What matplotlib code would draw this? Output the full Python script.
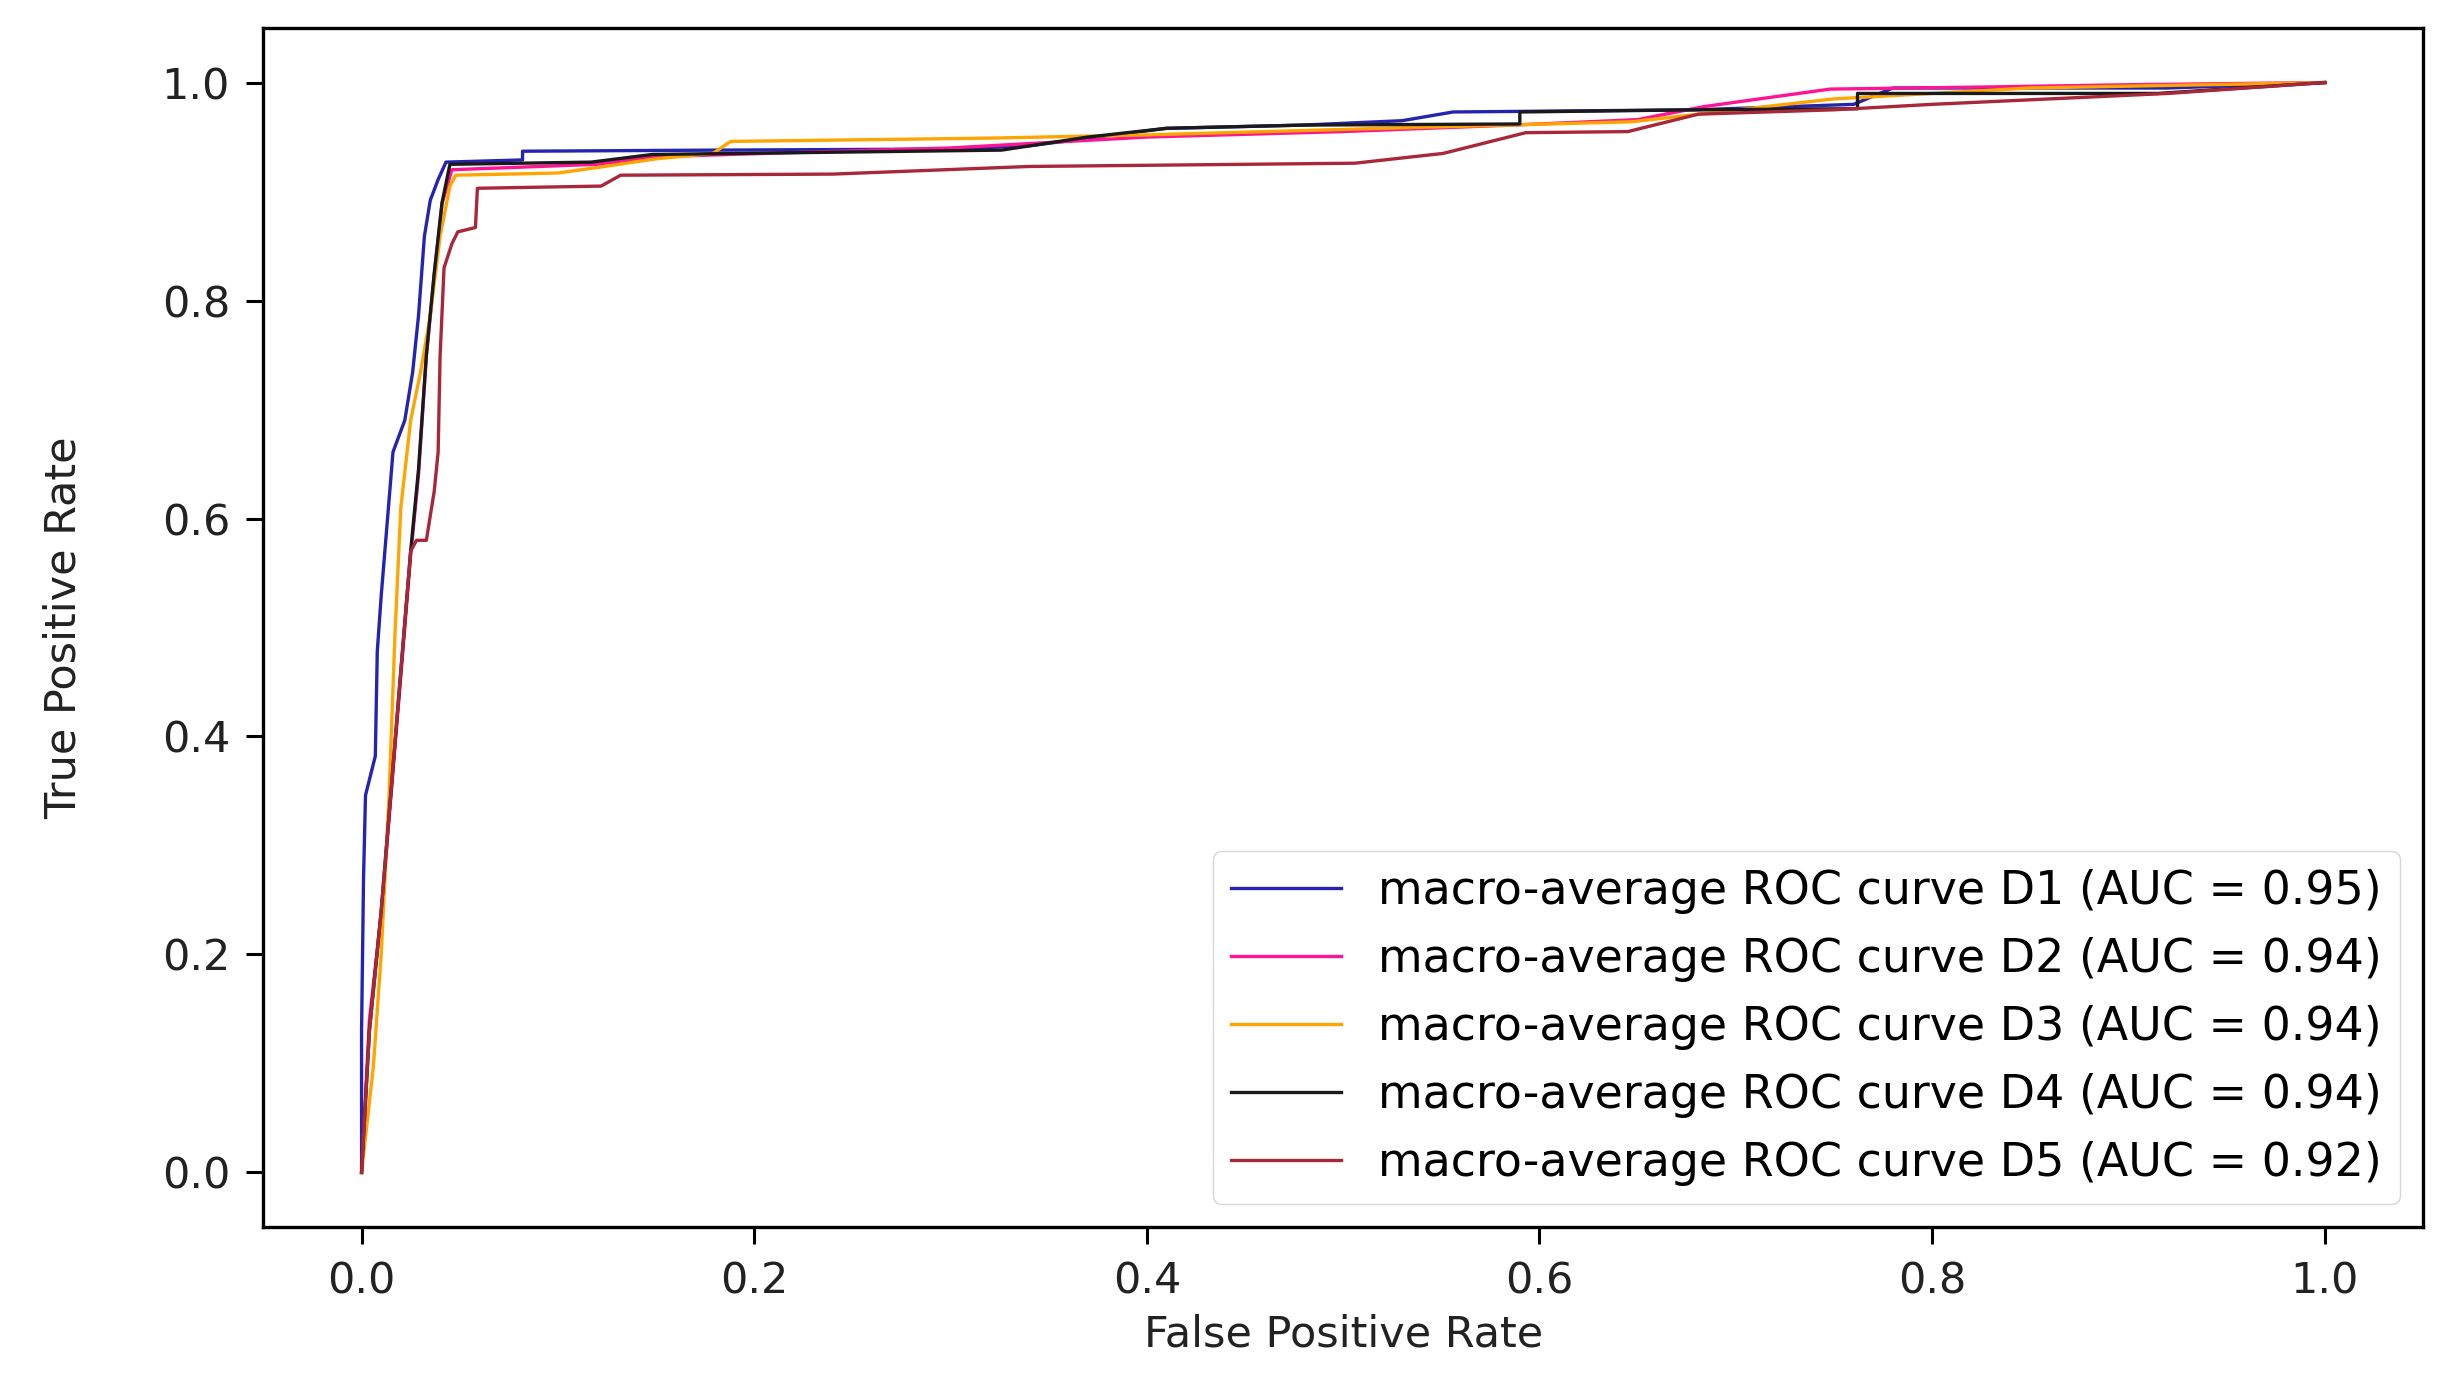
import matplotlib
matplotlib.use("Agg")
import matplotlib.pyplot as plt

# macro-average ROC curves
D1_FPR = [0, 0, 0.001, 0.002, 0.007, 0.008, 0.010, 0.016, 0.022, 0.026, 0.029,
          0.032, 0.035, 0.039, 0.043, 0.082, 0.082, 0.18, 0.30, 0.34, 0.41,
          0.48, 0.53, 0.556, 0.68, 0.76, 0.78, 0.92, 1.0]
D1_TPR = [0, 0.13, 0.27, 0.346, 0.382, 0.478, 0.529, 0.661, 0.69, 0.734, 0.786,
          0.859, 0.892, 0.911, 0.927, 0.929, 0.937, 0.938, 0.939, 0.942, 0.958,
          0.961, 0.965, 0.973, 0.975, 0.98, 0.995, 0.995, 1.0]

D2_FPR = [0, 0.004, 0.010, 0.015, 0.020, 0.025, 0.029, 0.033, 0.037, 0.041,
          0.046, 0.12, 0.15, 0.30, 0.40, 0.50, 0.60, 0.65, 0.684, 0.748, 0.83,
          0.90, 1.0]
D2_TPR = [0, 0.14, 0.236, 0.346, 0.456, 0.566, 0.64, 0.749, 0.823, 0.889,
          0.92, 0.925, 0.932, 0.94, 0.95, 0.955, 0.962, 0.966, 0.978, 0.994,
          0.996, 0.998, 1.0]

D3_FPR = [0, 0.006, 0.010, 0.014, 0.017, 0.020, 0.025, 0.030, 0.035, 0.040,
          0.045, 0.048, 0.10, 0.12, 0.15, 0.179, 0.188, 0.32, 0.40, 0.52,
          0.647, 0.681, 0.75, 0.85, 1.0]
D3_TPR = [0, 0.097, 0.2, 0.346, 0.493, 0.61, 0.69, 0.734, 0.786, 0.859,
          0.905, 0.915, 0.917, 0.922, 0.93, 0.935, 0.946, 0.949, 0.952, 0.958,
          0.964, 0.971, 0.985, 0.995, 1.0]

D4_FPR = [0, 0.004, 0.010, 0.015, 0.020, 0.025, 0.029, 0.033, 0.037, 0.041,
          0.045, 0.117, 0.148, 0.326, 0.37, 0.41, 0.481, 0.59, 0.59, 0.68,
          0.762, 0.762, 0.915, 1.0]
D4_TPR = [0, 0.13, 0.24, 0.35, 0.46, 0.57, 0.645, 0.75, 0.825, 0.89,
          0.925, 0.927, 0.934, 0.938, 0.95, 0.958, 0.961, 0.962, 0.973, 0.975,
          0.976, 0.99, 0.99, 1.0]

D5_FPR = [0, 0.004, 0.010, 0.015, 0.020, 0.025, 0.028, 0.033, 0.037, 0.039,
          0.040, 0.042, 0.046, 0.049, 0.058, 0.059, 0.122, 0.132, 0.24, 0.34,
          0.506, 0.551, 0.593, 0.645, 0.681, 0.75, 0.80, 0.92, 1.0]
D5_TPR = [0, 0.13, 0.24, 0.35, 0.46, 0.57, 0.58, 0.58, 0.625, 0.661,
          0.749, 0.83, 0.852, 0.863, 0.867, 0.903, 0.905, 0.915, 0.916, 0.923,
          0.926, 0.935, 0.954, 0.955, 0.971, 0.975, 0.98, 0.99, 1.0]

NAMES = ["D1", "D2", "D3", "D4", "D5"]
AUCS = [0.95, 0.94, 0.94, 0.94, 0.92]
COLORS = ["#2424b0", "deeppink", "orange", "#1a1a1a", "#a8283a"]
CURVES = [(D1_FPR, D1_TPR), (D2_FPR, D2_TPR), (D3_FPR, D3_TPR),
          (D4_FPR, D4_TPR), (D5_FPR, D5_TPR)]

fig = plt.figure(figsize=(24.39, 13.82), dpi=100)
ax = fig.add_axes([0.108, 0.1122, 0.8854, 0.8675])

for (fpr, tpr), name, auc, color in zip(CURVES, NAMES, AUCS, COLORS):
    ax.plot(fpr, tpr, color=color, lw=2.4,
            label=f"macro-average ROC curve {name} (AUC = {auc:.2f})")

ax.set_xlabel("False Positive Rate", fontsize=31, color="#222")
ax.set_ylabel("True Positive Rate", fontsize=31, color="#222")
ax.xaxis.set_label_coords(0.5, -0.072)
ax.yaxis.set_label_coords(-0.083, 0.5)
ax.tick_params(axis="both", labelsize=31, length=12, width=2.2, pad=12,
               labelcolor="#222")
for sp in ax.spines.values():
    sp.set_linewidth(2.4)

ax.legend(loc="lower right", fontsize=33, handlelength=2.4,
          labelspacing=0.5, borderaxespad=0.5, framealpha=0.8)

fig.savefig("out.png", dpi=100, facecolor="white")
